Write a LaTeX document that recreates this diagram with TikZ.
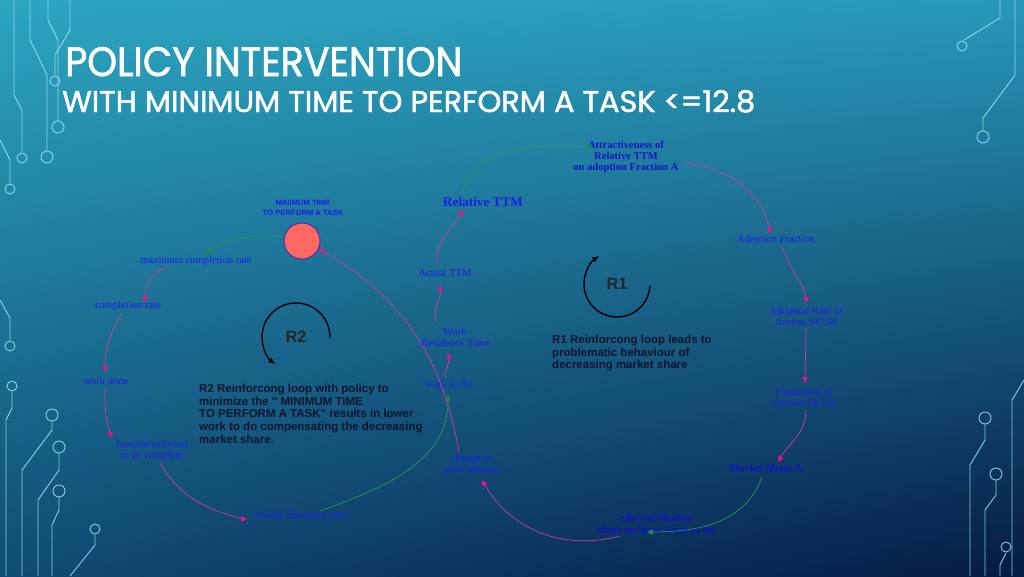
\documentclass[tikz,border=0pt]{standalone}
\usepackage{fontspec}
\setmainfont{Liberation Serif}
\newfontfamily\titlefont{Poppins}[FakeBold=1.6]
\newfontfamily\sansfont{Liberation Sans}
\usetikzlibrary{arrows.meta,calc,shadings}
\definecolor{bgTL}{RGB}{44,166,192}
\definecolor{bgTR}{RGB}{40,152,184}
\definecolor{bgBL}{RGB}{16,74,118}
\definecolor{bgBR}{RGB}{5,26,70}
\definecolor{lbl}{RGB}{25,30,235}
\definecolor{lbldk}{RGB}{18,18,200}
\definecolor{pinkline}{RGB}{205,60,155}
\definecolor{pinkhead}{RGB}{235,20,135}
\definecolor{grnline}{RGB}{40,150,85}
\definecolor{grnhead}{RGB}{30,140,70}
\definecolor{txtdk}{RGB}{15,20,45}
\definecolor{circuit}{RGB}{150,228,242}
\definecolor{coral}{RGB}{255,105,100}
\definecolor{circedge}{RGB}{90,40,170}
\tikzset{
 lab/.style={text=lbl, font=\fontsize{9}{9.5}\selectfont, align=center, inner sep=1pt},
 labb/.style={text=lbldk, font=\bfseries\fontsize{9}{9.2}\selectfont, align=center, inner sep=1pt},
 pk/.style={draw=pinkline, line width=0.6pt, -{Triangle[length=5pt,width=4.5pt,color=pinkhead]}},
 gr/.style={draw=grnline, line width=0.6pt, -{Triangle[length=5pt,width=4.5pt,color=grnhead]}},
 blk/.style={text=txtdk, font=\sansfont\bfseries\fontsize{9.8}{10.84}\selectfont, align=left, inner sep=0pt, anchor=north west},
 trace/.style={draw=circuit, line width=0.8pt, opacity=0.85},
 loopar/.style={draw=black, line width=1.2pt, -{Latex[length=6pt,width=5pt]}},
 looplbl/.style={font=\sansfont\bfseries\fontsize{14}{14}\selectfont, text=black!85, inner sep=0pt}
}
\begin{document}
\begin{tikzpicture}[x=0.03cm,y=0.03cm]
\useasboundingbox (0,0) rectangle (1024,-576);
\shade[upper left=bgTL, upper right=bgTR, lower left=bgBL, lower right=bgBR] (0,0) rectangle (1024,-576);

% circuit traces, left top
\draw[trace] (14,0) -- (14,-95) -- (22,-110) -- (22,-152);
\draw[trace] (22,-158) circle[radius=5];
\draw[trace] (30,0) -- (30,-40) -- (47,-75) -- (47,-150);
\draw[trace] (47,-157) circle[radius=6];
\draw[trace] (48,0) -- (48,-20) -- (58,-40) -- (58,-121);
\draw[trace] (58,-127) circle[radius=6];
\draw[trace] (70,0) -- (70,-30) -- (55,-55) -- (55,-75);
\draw[trace] (55,-81) circle[radius=5];
\draw[trace] (0,-140) -- (10,-160) -- (10,-183);
\draw[trace] (10,-189) circle[radius=5];
% left bottom
\draw[trace] (0,-300) -- (10,-318) -- (10,-340);
\draw[trace] (10,-346) circle[radius=5];
\draw[trace] (6,-576) -- (6,-420) -- (12,-408) -- (12,-392);
\draw[trace] (12,-386) circle[radius=5];
\draw[trace] (22,-576) -- (22,-470) -- (52,-430) -- (52,-421);
\draw[trace] (52,-415) circle[radius=6];
\draw[trace] (38,-576) -- (38,-500) -- (59,-470) -- (59,-453);
\draw[trace] (59,-447) circle[radius=6];
\draw[trace] (52,-576) -- (52,-525) -- (59,-510) -- (59,-497);
\draw[trace] (59,-491) circle[radius=6];
\draw[trace] (70,-576) -- (95,-545) -- (95,-535);
\draw[trace] (95,-529) circle[radius=5];
% right top
\draw[trace] (1000,0) -- (1000,-18) -- (964,-40);
\draw[trace] (962,-46) circle[radius=5];
\draw[trace] (1015,0) -- (1015,-75) -- (983,-118) -- (983,-131);
\draw[trace] (983,-137) circle[radius=6];
% right bottom
\draw[trace] (970,-576) -- (970,-465) -- (985,-440) -- (985,-424);
\draw[trace] (985,-418) circle[radius=6];
\draw[trace] (985,-576) -- (985,-510) -- (996,-495) -- (996,-480);
\draw[trace] (996,-474) circle[radius=6];
\draw[trace] (1000,-576) -- (1000,-565) -- (1006,-553);
\draw[trace] (1006,-547) circle[radius=5];
\draw[trace] (1024,-380) -- (1012,-400) -- (1012,-576);

% titles
\node[anchor=base west, inner sep=0pt, text=white] (title1) at (65,-76) {\resizebox{11.91cm}{0.87cm}{\titlefont POLICY INTERVENTION}};
\node[anchor=base west, inner sep=0pt, text=white] (title2) at (62,-112) {\resizebox{20.79cm}{0.66cm}{\titlefont WITH MINIMUM TIME TO PERFORM A TASK <=12.8}};

% variables
\node[labb] (attr) at (626,-157) {Attractiveness of\\Relative TTM\\on adoption Fraction A};
\node[lab] (adf) at (776,-240) {Adoption Fraction};
\node[lab] (adr) at (806,-316) {Adoption Rate of\\Anritsu 8475B};
\node[lab] (cust) at (804,-397) {Customers of\\Anritsu 8475B};
\node[labb] (ms) at (766,-468) {Market Share A};
\node[labb, font=\bfseries\fontsize{8.8}{10}\selectfont] (eff) at (656,-524) {effect of Market\\share on More Work to do};
\node[lab] (cwa) at (471,-463) {change in\\work amount};
\node[lab] (wtd) at (448,-384) {work to do};
\node[lab] (wrt) at (455,-337) {Work\\Residence Time};
\node[lab] (att) at (445,-273) {Actual TTM};
\node[labb, font=\bfseries\fontsize{11.3}{12}\selectfont, text=lbl] (rel) at (483,-202) {Relative TTM};
\node[text=lbl, font=\sansfont\bfseries\fontsize{6.5}{8.5}\selectfont, align=center, inner sep=0pt] (mtlbl) at (303,-208) {MINIMUM TIME\\TO PERFORM A TASK};
\node[circle, draw=circedge, fill=coral, line width=0.8pt, minimum size=36*0.03cm, inner sep=0pt] (circ) at (302,-241) {};
\node[lab] (mcr) at (196,-261) {maximum completion rate};
\node[lab] (cr) at (128,-306) {completion rate};
\node[lab] (wd) at (106,-381) {work done};
\node[lab] (fb) at (152,-450) {fraction believed\\to be complete};
\node[lab] (rdr) at (300,-516) {rework discovery rate};

% links
\draw[gr] ($(rel)+(-21,8)$) to[out=75,in=180] ($(attr)+(-34,11)$);
\draw[pk] ($(attr)+(58,-6)$) to[out=-5,in=105] ($(adf)+(-5,7)$);
\draw[pk] ($(adf)+(7,-8)$) to[out=-75,in=100] ($(adr)+(1,13)$);
\draw[pk] ($(adr)+(0,-12)$) -- ($(cust)+(1,14)$);
\draw[pk] ($(cust)+(2,-13)$) to[out=-90,in=60] ($(ms)+(12,6)$);
\draw[gr] ($(ms)+(-4,-9)$) to[out=-110,in=0] ($(eff)+(-9,-8)$);
\draw[pk] ($(eff)+(-36,-12)$) to[out=195,in=-60] ($(cwa)+(11,-17)$);
\draw[gr] ($(rdr)+(20,5)$) to[out=20,in=-90] ($(wtd)+(0,-11)$);
\draw[pk] ($(cwa)+(-12,11)$) to[out=100,in=-30] (circ.-25);
\draw[pk] ($(wtd)+(-3,7)$) to[out=85,in=-80] ($(wrt)+(-7,-16)$);
\draw[pk] ($(wrt)+(-19,15)$) to[out=105,in=-85] ($(att)+(-5,-12)$);
\draw[pk] ($(att)+(-8,9)$) to[out=95,in=-120] ($(rel)+(-20,-8)$);
\draw[gr] (circ.167) to[out=175,in=30] ($(mcr)+(9,8)$);
\draw[pk] ($(mcr)+(-28,-6)$) to[out=200,in=90] ($(cr)+(17,4)$);
\draw[pk] ($(cr)+(-6,-7)$) to[out=-120,in=90] ($(wd)+(-1,9)$);
\draw[pk] ($(wd)+(-1,-7)$) to[out=-90,in=110] ($(fb)+(-40,12)$);
\draw[pk] ($(fb)+(8,-13)$) to[out=-60,in=165] ($(rdr)+(-53,-4)$);

% loops
\node[looplbl] (R1) at (617,-284) {R1};
\draw[loopar] ($(R1)+(-3:33)$) arc[start angle=-3, end angle=-238, radius=33];
\node[looplbl] (R2) at (296,-337) {R2};
\draw[loopar] ($(R2)+(-2:34)$) arc[start angle=-2, end angle=233, radius=34];

% texts
\node[blk] (r1txt) at (552,-335) {R1 Reinforcong loop leads to\\problematic behaviour of\\decreasing market share};
\node[blk] (r2txt) at (199,-384) {R2 Reinforcong loop with policy to\\minimize the " MINIMUM TIME\\TO PERFORM A TASK" results in lower\\work to do compensating the decreasing\\market share.};
\end{tikzpicture}
\end{document}
